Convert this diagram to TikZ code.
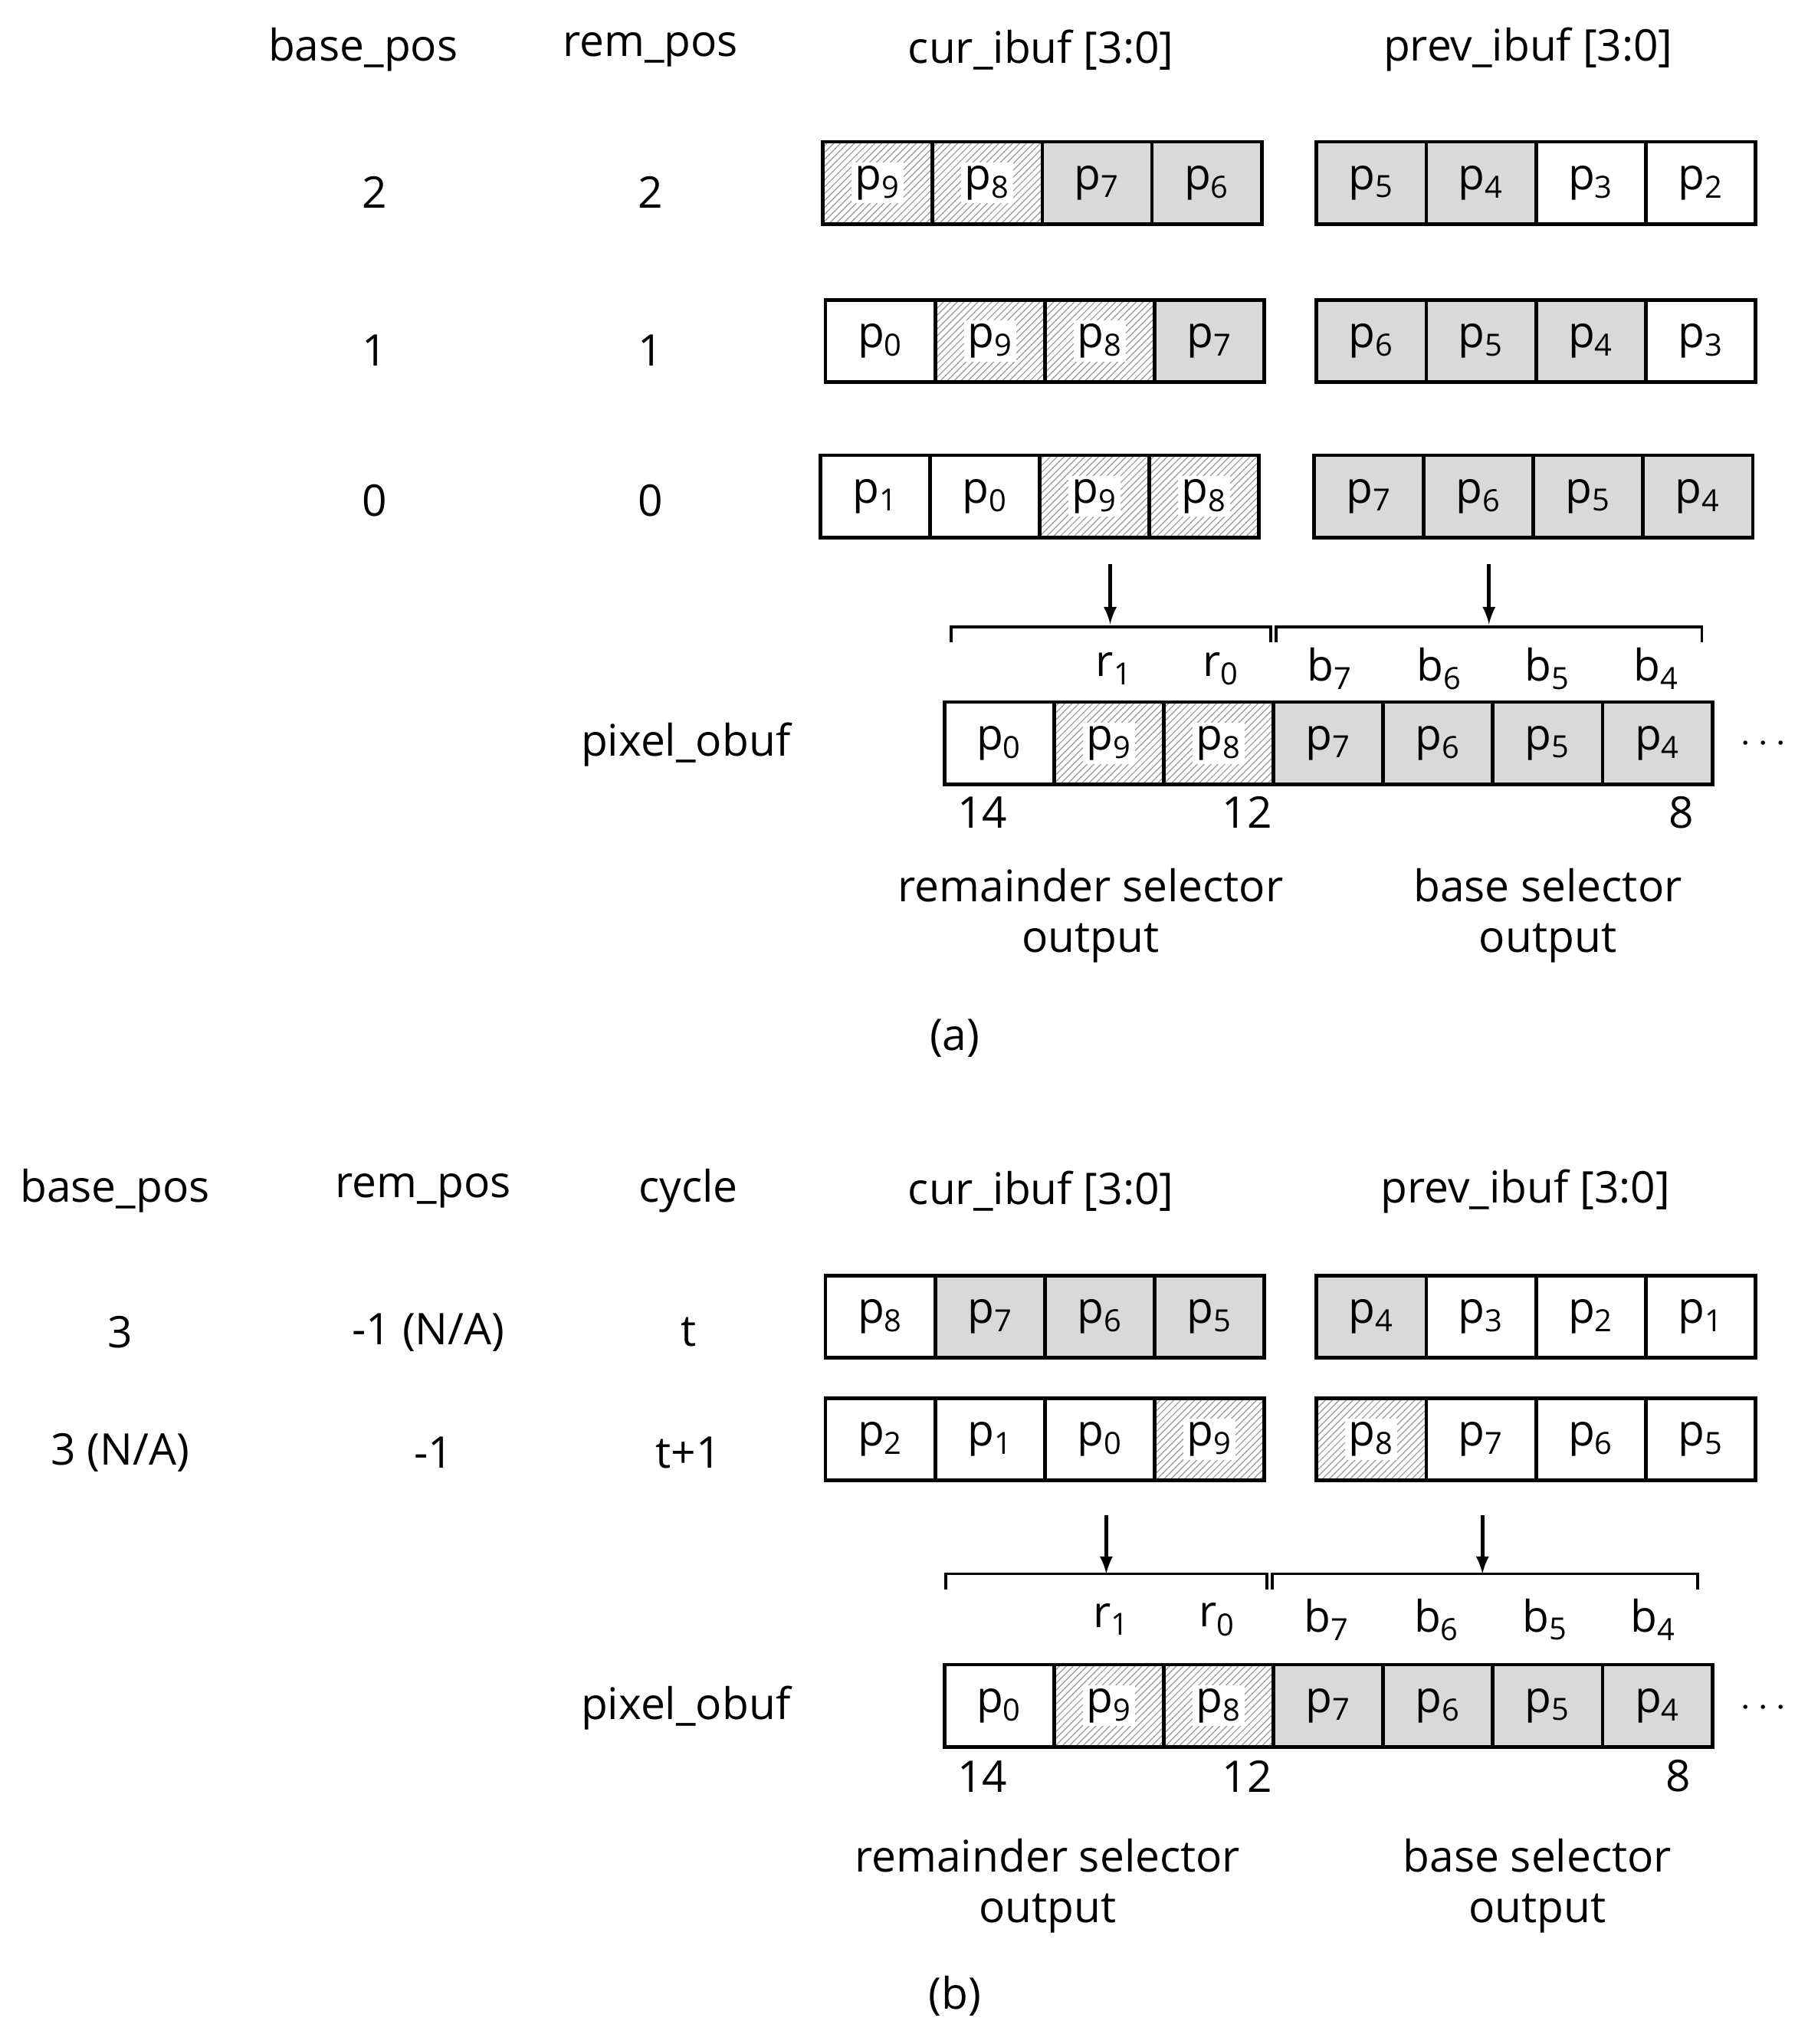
\documentclass[tikz,border=0pt]{standalone}
\usepackage{fontspec}
\setmainfont{Open Sans}
\usetikzlibrary{patterns}
\definecolor{cellgray}{HTML}{D9D9D9}
\tikzset{
  cell/.style={draw,line width=1.6pt,minimum width=1.68cm,minimum height=1.26cm,inner sep=0pt},
  wt/.style={fill=white}, gy/.style={fill=cellgray},
  hat/.style={pattern=north east lines,pattern color=gray!80},
  wt-t/.style={}, gy-t/.style={}, hat-t/.style={fill=white},
  txt/.style={inner sep=1.5pt,font=\fontsize{19}{22}\selectfont},
  lbl/.style={font=\fontsize{19}{22}\selectfont,align=center},
  brc/.style={line width=1.3pt},
  arr/.style={line width=1.6pt,-latex}
}
\newcommand\bufrow[4]{%
  \foreach \s/\t [count=\i] in {#4}{
    \node[cell,\s] (#3\i) at ({#1+84*\i-42},#2) {};
    \node[txt,\s-t] at (#3\i) {p\textsubscript{\t}};
  }}
\begin{document}
\begin{tikzpicture}[x=0.02cm,y=-0.02cm]
\useasboundingbox (0,0) rectangle (1384,1565);

% (a) headers
\node[lbl] (ha1) at (278,38) {base\_pos};
\node[lbl] (ha2) at (498,38) {rem\_pos};
\node[lbl] (ha3) at (797,38) {cur\_ibuf [3:0]};
\node[lbl] (ha4) at (1170,38) {prev\_ibuf [3:0]};
\foreach \y/\v [count=\k] in {147/2,268/1,383/0}{
  \node[lbl] (ba\k) at (287,\y) {\v};
  \node[lbl] (ra\k) at (498,\y) {\v};
}

% (a) buffers
\bufrow{630}{140}{ca}{hat/9,hat/8,gy/7,gy/6}
\bufrow{1008}{140}{pa}{gy/5,gy/4,wt/3,wt/2}
\bufrow{632}{261}{cb}{wt/0,hat/9,hat/8,gy/7}
\bufrow{1008}{261}{pb}{gy/6,gy/5,gy/4,wt/3}
\bufrow{628}{380}{cc}{wt/1,wt/0,hat/9,hat/8}
\bufrow{1006}{380}{pc}{gy/7,gy/6,gy/5,gy/4}

\coordinate (a1s) at (850,432); \coordinate (a1e) at (850,478);
\coordinate (a2s) at (1140,432); \coordinate (a2e) at (1140,478);
\draw[arr] (a1s) -- (a1e);
\draw[arr] (a2s) -- (a2e);
\draw[brc] (728,492) -- (728,480) -- (973,480) -- (973,492);
\draw[brc] (977,492) -- (977,480) -- (1303,480) -- (1303,492);

\foreach \x/\t in {853/r\textsubscript{1},935/r\textsubscript{0},1018/b\textsubscript{7},1102/b\textsubscript{6},1185/b\textsubscript{5},1268/b\textsubscript{4}}
  \node[lbl] at (\x,512) {\t};

\node[lbl] (oa) at (525,570) {pixel\_obuf};
\bufrow{723}{569}{oa}{wt/0,hat/9,hat/8,gy/7,gy/6,gy/5,gy/4}
\node[lbl] (da) at (1350,570) {$\cdots$};
\node[lbl] (na1) at (752,622) {14};
\node[lbl] (na2) at (955,622) {12};
\node[lbl] (na3) at (1287,622) {8};
\node[lbl] (sa1) at (835,701) {remainder selector\\output};
\node[lbl] (sa2) at (1185,701) {base selector\\output};
\node[lbl] (capa) at (731,795) {(a)};

% (b) headers
\node[lbl] (hb1) at (88,912) {base\_pos};
\node[lbl] (hb2) at (324,912) {rem\_pos};
\node[lbl] (hb3) at (527,912) {cycle};
\node[lbl] (hb4) at (797,912) {cur\_ibuf [3:0]};
\node[lbl] (hb5) at (1168,912) {prev\_ibuf [3:0]};
\node[lbl] (bb1) at (92,1020) {3};
\node[lbl] (rb1) at (328,1020) {-1 (N/A)};
\node[lbl] (cy1) at (527,1020) {t};
\node[lbl] (bb2) at (92,1112) {3 (N/A)};
\node[lbl] (rb2) at (332,1112) {-1};
\node[lbl] (cy2) at (527,1112) {t+1};

% (b) buffers
\bufrow{632}{1008}{cd}{wt/8,gy/7,gy/6,gy/5}
\bufrow{1008}{1008}{pd}{gy/4,wt/3,wt/2,wt/1}
\bufrow{632}{1102}{ce}{wt/2,wt/1,wt/0,hat/9}
\bufrow{1008}{1102}{pe}{hat/8,wt/7,wt/6,wt/5}

\coordinate (b1s) at (847,1160); \coordinate (b1e) at (847,1205);
\coordinate (b2s) at (1135,1160); \coordinate (b2e) at (1135,1205);
\draw[arr] (b1s) -- (b1e);
\draw[arr] (b2s) -- (b2e);
\draw[brc] (724,1217) -- (724,1205) -- (970,1205) -- (970,1217);
\draw[brc] (974,1217) -- (974,1205) -- (1300,1205) -- (1300,1217);

\foreach \x/\t in {851/r\textsubscript{1},932/r\textsubscript{0},1016/b\textsubscript{7},1100/b\textsubscript{6},1183/b\textsubscript{5},1266/b\textsubscript{4}}
  \node[lbl] at (\x,1240) {\t};

\node[lbl] (ob) at (525,1308) {pixel\_obuf};
\bufrow{723}{1306}{ob}{wt/0,hat/9,hat/8,gy/7,gy/6,gy/5,gy/4}
\node[lbl] (db) at (1350,1308) {$\cdots$};
\node[lbl] (nb1) at (752,1360) {14};
\node[lbl] (nb2) at (955,1360) {12};
\node[lbl] (nb3) at (1285,1360) {8};
\node[lbl] (sb1) at (802,1444) {remainder selector\\output};
\node[lbl] (sb2) at (1177,1444) {base selector\\output};
\node[lbl] (capb) at (731,1528) {(b)};
\end{tikzpicture}
\end{document}
